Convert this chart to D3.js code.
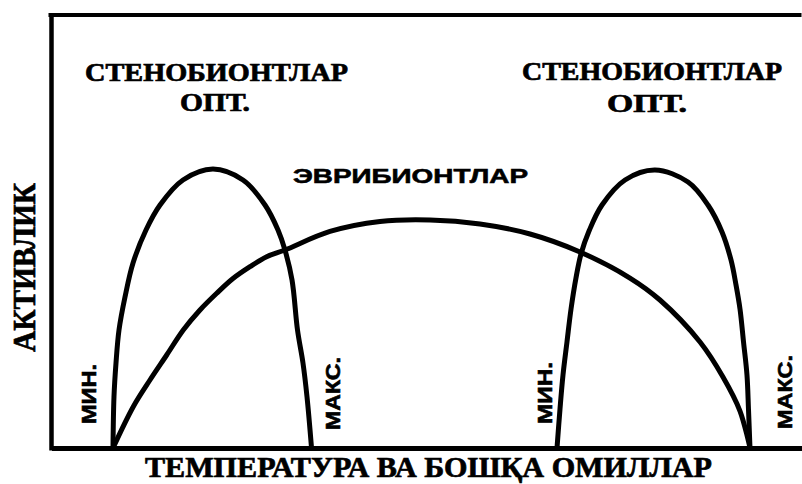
<!DOCTYPE html>
<html>
<head>
<meta charset="utf-8">
<script src="https://cdn.jsdelivr.net/npm/d3@7"></script>
<style>
  html, body { margin: 0; padding: 0; background: #fff; }
  svg { display: block; }
  .serif { font-family: "Liberation Serif", "DejaVu Serif", serif; font-weight: bold; fill: #000; stroke: #000; stroke-width: 0.7; }
  .sans { font-family: "Liberation Sans", Arial, sans-serif; font-weight: bold; fill: #000; stroke: #000; stroke-width: 0.6; }
</style>
</head>
<body>
<div id="chart"></div>
<script>
// Activity vs temperature (arbitrary units 0-100)
const stenoLeftT  = [8.2, 8.33, 8.6, 9.0, 9.8, 10.87, 12.6, 14.47, 17.53, 21.53, 25.53, 28.47, 30.2, 31.13, 32.07, 32.8, 33.53, 34.07, 34.67];
const stenoLeftA  = [0, 11.8, 19.68, 27.31, 34.95, 42.82, 50.46, 56.25, 62.04, 64.58, 62.04, 56.25, 50.46, 45.83, 38.89, 27.31, 19.68, 11.8, 0];

const euryT = [8.2, 10.9, 13.13, 15.36, 17.57, 19.8, 22.03, 24.24, 26.47, 28.69, 31.13, 37.13, 43.8, 50.47, 57.13, 63.8, 70.47, 77.13, 81.13, 86.47, 89.53, 91.8, 93.13];
const euryA = [0, 9.56, 15.74, 21.53, 27.31, 31.94, 35.81, 39.28, 41.97, 44.28, 45.83, 50.12, 52.43, 52.78, 51.85, 49.54, 45.37, 39.35, 34.26, 24.54, 16.44, 8.56, 0];

const stenoRightT = [67.4, 67.8, 68.2, 68.73, 69.27, 69.93, 70.6, 71.67, 73.4, 76.47, 80.47, 84.87, 87.53, 89.4, 90.6, 91.27, 91.8, 92.27, 92.73, 92.93, 93.13];
const stenoRightA = [0, 9.03, 16.9, 24.54, 32.18, 39.35, 44.91, 50.23, 56.25, 62.04, 64.35, 61.57, 56.25, 50.0, 43.52, 37.73, 32.18, 24.54, 16.9, 9.03, 0];

// Labels
const stenoTitle = "СТЕНОБИОНТЛАР";
const optLabel = "ОПТ.";
const euryTitle = "ЭВРИБИОНТЛАР";
const minLabel = "МИН.";
const maxLabel = "МАКС.";
const yTitle = "АКТИВЛИК";
const xTitle = "ТЕМПЕРАТУРА ВА БОШҚА ОМИЛЛАР";

const W = 802, H = 484;

const x = d3.scaleLinear().domain([0, 100]).range([51.5, 801.5]);
const y = d3.scaleLinear().domain([0, 100]).range([448, 16]);

const svg = d3.select("#chart").append("svg")
  .attr("width", W)
  .attr("height", H);

// Frame: left and bottom axes without ticks, plus the top rule
svg.append("g")
  .attr("transform", "translate(0," + y(0) + ")")
  .call(d3.axisBottom(x).tickValues([]).tickSizeOuter(0))
  .call(g => g.select(".domain").attr("stroke", "#000").attr("stroke-width", 5));

svg.append("g")
  .attr("transform", "translate(" + x(0) + ",0)")
  .call(d3.axisLeft(y).tickValues([]).tickSizeOuter(0))
  .call(g => g.select(".domain").attr("stroke", "#000").attr("stroke-width", 4.5)
    .attr("d", "M0," + (y(100) - 3) + "V" + (y(0) + 2.5)));

svg.append("line")
  .attr("x1", x(0) - 3).attr("x2", x(100))
  .attr("y1", y(100) - 1).attr("y2", y(100) - 1)
  .attr("stroke", "#000")
  .attr("stroke-width", 4);

// Curves
const line = d3.line()
  .x(d => x(d[0]))
  .y(d => y(d[1]))
  .curve(d3.curveCatmullRom.alpha(0.5));

const curves = [
  d3.zip(stenoLeftT, stenoLeftA),
  d3.zip(euryT, euryA),
  d3.zip(stenoRightT, stenoRightA)
];

svg.selectAll(".curve")
  .data(curves)
  .enter().append("path")
  .attr("class", "curve")
  .attr("d", line)
  .attr("fill", "none")
  .attr("stroke", "#000")
  .attr("stroke-width", 5)
  .attr("stroke-linejoin", "round");

// Horizontal labels
function label(text, cls, cx, by, size, len) {
  svg.append("text")
    .attr("class", cls)
    .attr("x", cx).attr("y", by)
    .attr("text-anchor", "middle")
    .attr("font-size", size)
    .attr("textLength", len)
    .attr("lengthAdjust", "spacingAndGlyphs")
    .text(text);
}

label(stenoTitle, "serif", 216.5, 81, 25, 263);
label(optLabel, "serif", 215, 111, 25, 70);
label(stenoTitle, "serif", 652, 80, 25, 260);
label(optLabel, "serif", 647, 112, 25, 80);
label(euryTitle, "sans", 410.5, 183, 21, 235);
label(xTitle, "serif", 428.5, 477, 29, 567);

// Vertical labels
function vlabel(text, cls, bx, cy, size, len) {
  svg.append("text")
    .attr("class", cls)
    .attr("transform", "translate(" + bx + "," + cy + ") rotate(-90)")
    .attr("text-anchor", "middle")
    .attr("font-size", size)
    .attr("textLength", len)
    .attr("lengthAdjust", "spacingAndGlyphs")
    .text(text);
}

vlabel(yTitle, "serif", 35, 267.5, 32, 169);
vlabel(minLabel, "sans", 96, 394, 20, 60);
vlabel(maxLabel, "sans", 340, 393.5, 20, 73);
vlabel(minLabel, "sans", 552, 393, 20, 62);
vlabel(maxLabel, "sans", 792, 392, 20, 74);
</script>
</body>
</html>
